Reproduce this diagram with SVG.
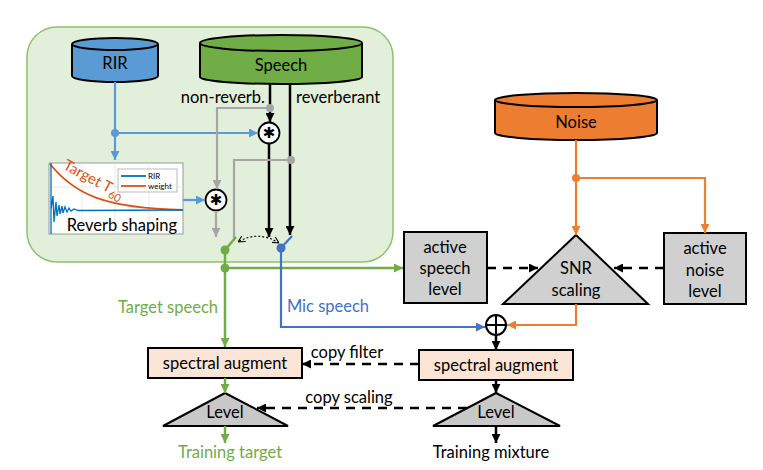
<svg xmlns="http://www.w3.org/2000/svg" width="763" height="470" viewBox="0 0 763 470">
<style>
text{font-family:Lato,"Liberation Sans",sans-serif;font-size:16.5px;fill:#000;text-anchor:middle;dominant-baseline:central}
.cyl{stroke:#000;stroke-width:2}
.box{stroke:#000;stroke-width:2}
.k{stroke:#000;stroke-width:2.5;fill:none}
.g{stroke:#A6A6A6;stroke-width:2.2;fill:none}
.b{stroke:#5B9BD5;stroke-width:2.2;fill:none}
.m{stroke:#4472C4;stroke-width:2.2;fill:none}
.gr{stroke:#70AD47;stroke-width:2.5;fill:none}
.o{stroke:#ED7D31;stroke-width:2.2;fill:none}
.d{stroke:#000;stroke-width:2.5;fill:none;stroke-dasharray:9,7}
.op{font-family:"DejaVu Sans",sans-serif;font-size:15px}
</style>
<defs>
<marker id="ak" viewBox="0 0 10 10" refX="10" refY="5" markerWidth="9" markerHeight="9" markerUnits="userSpaceOnUse" orient="auto"><path d="M0,0L10,5L0,10z" fill="#000"/></marker>
<marker id="ag" viewBox="0 0 10 10" refX="10" refY="5" markerWidth="9" markerHeight="9" markerUnits="userSpaceOnUse" orient="auto"><path d="M0,0L10,5L0,10z" fill="#A6A6A6"/></marker>
<marker id="ab" viewBox="0 0 10 10" refX="10" refY="5" markerWidth="9" markerHeight="9" markerUnits="userSpaceOnUse" orient="auto"><path d="M0,0L10,5L0,10z" fill="#5B9BD5"/></marker>
<marker id="am" viewBox="0 0 10 10" refX="10" refY="5" markerWidth="9" markerHeight="9" markerUnits="userSpaceOnUse" orient="auto"><path d="M0,0L10,5L0,10z" fill="#4472C4"/></marker>
<marker id="agr" viewBox="0 0 10 10" refX="10" refY="5" markerWidth="9" markerHeight="9" markerUnits="userSpaceOnUse" orient="auto"><path d="M0,0L10,5L0,10z" fill="#70AD47"/></marker>
<marker id="ao" viewBox="0 0 10 10" refX="10" refY="5" markerWidth="9" markerHeight="9" markerUnits="userSpaceOnUse" orient="auto"><path d="M0,0L10,5L0,10z" fill="#ED7D31"/></marker>
<marker id="as" viewBox="0 0 10 10" refX="10" refY="5" markerWidth="7" markerHeight="7" markerUnits="userSpaceOnUse" orient="auto-start-reverse"><path d="M0,0L10,5L0,10" fill="none" stroke="#000" stroke-width="1.5"/></marker>
</defs>

<g id="reverb-box">
<rect x="27" y="27" width="366" height="235" rx="30" fill="#E2EFDA" stroke="#8DC26F" stroke-width="1.5"/>
</g>

<g id="rir">
<path class="cyl" d="M72,44V76A43,6 0 0 0 158,76V44" fill="#5B9BD5"/>
<ellipse class="cyl" cx="115" cy="44" rx="43" ry="6" fill="#5B9BD5"/>
<text x="115" y="63">RIR</text>
</g>

<g id="speech">
<path class="cyl" d="M200,43V77A81,7 0 0 0 362,77V43" fill="#70AD47"/>
<ellipse class="cyl" cx="281" cy="43" rx="81" ry="8" fill="#70AD47"/>
<text x="281" y="65">Speech</text>
</g>

<g id="noise">
<path class="cyl" d="M495,100V133A81,7 0 0 0 657,133V100" fill="#ED7D31"/>
<ellipse class="cyl" cx="576" cy="100" rx="81" ry="7" fill="#ED7D31"/>
<text x="576" y="122">Noise</text>
</g>

<g id="reverb-shaping">
<rect x="49" y="163" width="134" height="71" fill="#fff" stroke="#999" stroke-width="1"/>
<g stroke="#e3e3e3" stroke-width="0.8">
<line x1="82" y1="163" x2="82" y2="234"/><line x1="115" y1="163" x2="115" y2="234"/><line x1="149" y1="163" x2="149" y2="234"/>
<line x1="49" y1="187" x2="183" y2="187"/>
</g>
<path d="M50,164C75,195 105,208 183,210" fill="none" stroke="#D95319" stroke-width="1.8"/>
<path d="M51,163V234M51,210 L53,196 L54,222 L56,202 L57,216 L59,205 L60,214 L62,206 L63,213 L65,207 L67,212 L69,208 L71,211 L74,209 L78,210.5 L183,210" fill="none" stroke="#0072BD" stroke-width="1.3"/>
<rect x="118" y="169" width="59" height="23" fill="#fff" stroke="#aaa" stroke-width="0.8"/>
<line x1="121" y1="176" x2="146" y2="176" stroke="#0072BD" stroke-width="1.8"/>
<line x1="121" y1="186" x2="146" y2="186" stroke="#D95319" stroke-width="1.8"/>
<text x="148" y="176" style="font-size:8px;text-anchor:start">RIR</text>
<text x="148" y="186" style="font-size:8px;text-anchor:start">weight</text>
<text transform="translate(65,163) rotate(28)" style="font-size:15px;fill:#D95319;text-anchor:start">Target T<tspan dy="5" style="font-size:11px">60</tspan></text>
<text x="177" y="225" style="text-anchor:end">Reverb shaping</text>
</g>

<g id="conv-upper">
<circle cx="269" cy="133" r="10.5" fill="#fff" stroke="#000" stroke-width="1.8"/>
<text class="op" x="269" y="133">✱</text>
</g>
<g id="conv-lower">
<circle cx="216" cy="200" r="10.5" fill="#fff" stroke="#000" stroke-width="1.8"/>
<text class="op" x="216" y="200">✱</text>
</g>

<g id="active-speech-level">
<rect class="box" x="404" y="232" width="83" height="71" fill="#D0D0D0"/>
<text x="445" y="247">active</text><text x="445" y="268">speech</text><text x="445" y="289">level</text>
</g>
<g id="snr-scaling">
<path class="box" d="M576,235L648,304H503z" fill="#D0D0D0"/>
<text x="576" y="268">SNR</text><text x="576" y="290">scaling</text>
</g>
<g id="active-noise-level">
<rect class="box" x="664" y="233" width="82" height="71" fill="#D0D0D0"/>
<text x="705" y="248">active</text><text x="705" y="270">noise</text><text x="705" y="291">level</text>
</g>
<g id="sum">
<circle cx="496" cy="325" r="10" fill="#fff" stroke="#000" stroke-width="2"/>
<path d="M486,325H506M496,315V335" stroke="#000" stroke-width="2"/>
</g>
<g id="spectral-augment-target">
<rect class="box" x="148" y="348" width="154" height="30" fill="#FBE5D6"/>
<text x="225" y="363">spectral augment</text>
</g>
<g id="spectral-augment-mixture">
<rect class="box" x="419" y="350" width="154" height="30" fill="#FBE5D6"/>
<text x="496" y="365">spectral augment</text>
</g>
<g id="level-target">
<path class="box" d="M225,393L288,426H163z" fill="#C8C8C8"/>
<text x="225" y="412">Level</text>
</g>
<g id="level-mixture">
<path class="box" d="M496,393L560,426H433z" fill="#C8C8C8"/>
<text x="496" y="412">Level</text>
</g>

<g id="connectors">
<path class="b" d="M115,82V160" marker-end="url(#ab)"/>
<path class="b" d="M115,133H258" marker-end="url(#ab)"/>
<path class="b" d="M183,200H205" marker-end="url(#ab)"/>
<circle cx="115" cy="133" r="4" fill="#5B9BD5"/>
<path class="k" d="M270,84V122" marker-end="url(#ak)"/>
<path class="k" d="M269,144V237" marker-end="url(#ak)"/>
<path class="k" d="M290,84V235" marker-end="url(#ak)"/>
<path class="g" d="M270,108H217V189" marker-end="url(#ag)"/>
<path class="g" d="M216,211V237" marker-end="url(#ag)"/>
<path class="g" d="M291,160H234V238"/>
<circle cx="270" cy="108" r="4" fill="#A6A6A6"/>
<circle cx="291" cy="160" r="4" fill="#A6A6A6"/>
<path d="M279,243Q258,230 238,242" fill="none" stroke="#000" stroke-width="1.2" stroke-dasharray="2,2" marker-start="url(#as)" marker-end="url(#as)"/>
<path class="gr" d="M225,250L236,237"/>
<path class="m" d="M281,248L292,236"/>
<path class="gr" d="M225,250V347" marker-end="url(#agr)"/>
<path class="gr" d="M225,268H403" marker-end="url(#agr)"/>
<circle cx="225" cy="250" r="4.5" fill="#70AD47"/>
<circle cx="225" cy="268" r="4.5" fill="#70AD47"/>
<path class="m" d="M281,248V327H485" marker-end="url(#am)"/>
<circle cx="281" cy="248" r="4.5" fill="#4472C4"/>
<path class="o" d="M576,140V235" marker-end="url(#ao)"/>
<path class="o" d="M576,178H705V233" marker-end="url(#ao)"/>
<circle cx="576" cy="178" r="4" fill="#ED7D31"/>
<path class="o" d="M576,304V325H507" marker-end="url(#ao)"/>
<path class="k" d="M496,335V350" marker-end="url(#ak)"/>
<path class="d" d="M487,268H538" marker-end="url(#ak)"/>
<path class="d" d="M664,268H614" marker-end="url(#ak)"/>
<path class="d" d="M419,364H302" marker-end="url(#ak)"/>
<path class="gr" d="M225,378V393" marker-end="url(#agr)"/>
<path class="k" d="M496,380V393" marker-end="url(#ak)"/>
<path class="d" d="M467,408H257" marker-end="url(#ak)"/>
<path class="gr" d="M225,426V443" marker-end="url(#agr)"/>
<path class="k" d="M496,426V443" marker-end="url(#ak)"/>
</g>

<g id="labels">
<text x="265" y="97" style="text-anchor:end">non-reverb.</text>
<text x="296" y="97" style="text-anchor:start">reverberant</text>
<text x="168" y="307" style="fill:#70AD47">Target speech</text>
<text x="328" y="306" style="fill:#4472C4">Mic speech</text>
<text x="347" y="352">copy filter</text>
<text x="349" y="397">copy scaling</text>
<text x="230" y="452" style="fill:#70AD47">Training target</text>
<text x="491" y="452">Training mixture</text>
</g>
</svg>
